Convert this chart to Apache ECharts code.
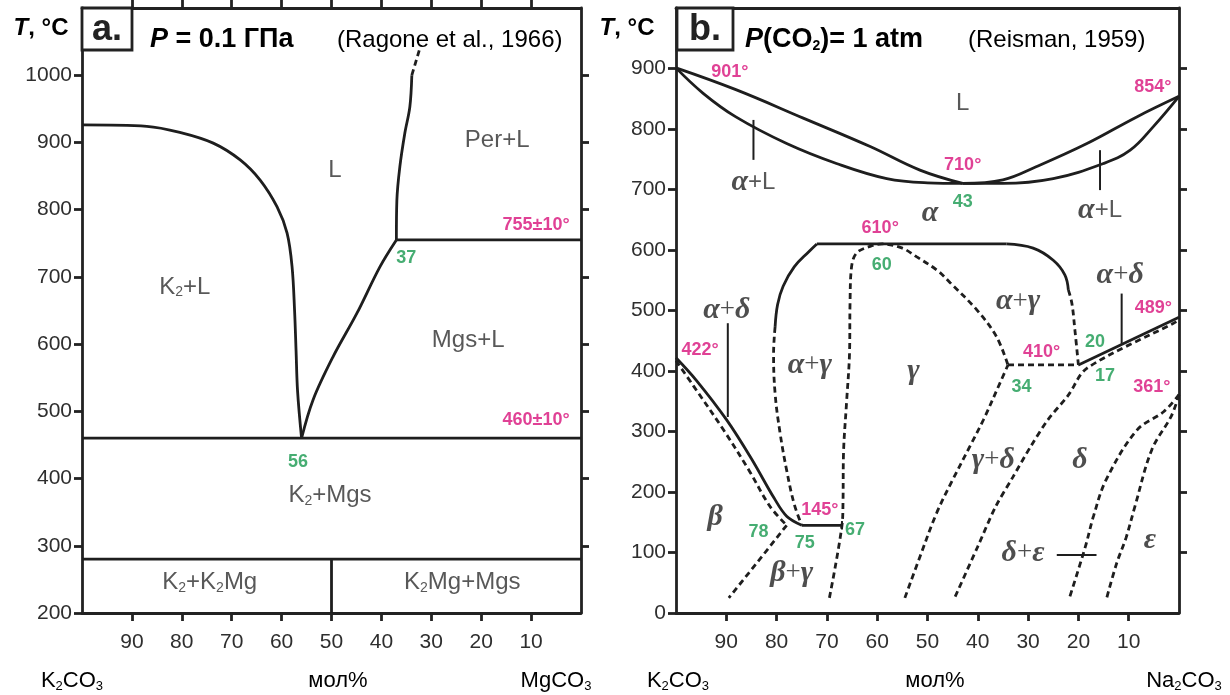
<!DOCTYPE html>
<html>
<head>
<meta charset="utf-8">
<script src="https://cdn.jsdelivr.net/npm/echarts@6/dist/echarts.min.js"></script>
<style>
  html, body { margin: 0; padding: 0; background: #fff; }
  #chart { width: 1230px; height: 695px; }
</style>
</head>
<body>
<div id="chart"></div>
<script>
// ---------- axes ----------
const xTicks = [10, 20, 30, 40, 50, 60, 70, 80, 90];
const yTicksA = [200, 300, 400, 500, 600, 700, 800, 900, 1000];
const yTicksB = [0, 100, 200, 300, 400, 500, 600, 700, 800, 900];

// ---------- panel a: K2CO3 - MgCO3, P = 0.1 GPa ----------
const a_k2Liquidus = [[100, 926], [87, 924], [80.4, 915], [73.7, 899], [68.3, 874], [64.3, 844], [60.9, 804], [58.9, 765], [57.9, 715], [57.4, 650], [57.1, 590], [56.8, 530], [56, 460]];
const a_mgsLiquidus = [[56, 460], [53.7, 517], [49.7, 581], [44.9, 646], [40.3, 715], [37, 755]];
const a_perLiquidus = [[37, 755], [36.9, 814], [36.3, 864], [35.3, 914], [34.3, 953], [33.9, 1000]];
const a_perLiquidusExtrap = [[33.9, 1000], [32.1, 1045]];
const a_peritectic = [[37, 755], [0, 755]];
const a_eutectic = [[100, 460], [0, 460]];
const a_subsolidus = [[100, 280], [0, 280]];
const a_k2mg = [[50, 200], [50, 280]];

// ---------- panel b: K2CO3 - Na2CO3, P(CO2) = 1 atm ----------
const b_liquidusLeft = [[100, 901], [88.1, 865], [74.7, 818], [61.4, 771], [51.5, 732], [43, 710]];
const b_solidusLeft = [[100, 901], [94.6, 859], [88.1, 820], [78, 776], [68.1, 743], [58.1, 718], [50, 711], [43, 710]];
const b_liquidusRight = [[43, 710], [35, 716], [28.3, 738], [18.3, 776], [8.4, 820], [0, 854]];
const b_solidusRight = [[43, 710], [35, 710], [25, 718], [15, 743], [9.7, 765], [5.1, 804], [0, 854]];
const b_tieLeft = [[84.6, 815], [84.6, 749]];
const b_tieRight = [[15.7, 765], [15.7, 699]];
const b_alphaLeft = [[80.3, 473], [79.8, 510], [78.7, 540], [76.5, 572], [73.5, 598], [72, 610]];
const b_alpha610 = [[72, 610], [34.3, 610]];
const b_alphaRight = [[34.3, 610], [29, 603], [25, 583], [22.7, 559], [22, 534]];
const b_alphaRightDash = [[22, 534], [21.3, 512], [20.7, 468], [20, 410]];
const b_alphaGammaLeft = [[80.3, 473], [80.6, 429], [80.3, 363], [79.3, 297], [78, 236], [76.5, 180], [75, 145]];
const b_gammaDome = [[69.5, 25], [67, 145], [66.8, 182], [66.7, 264], [66.1, 347], [65.5, 430], [65.4, 512], [65.1, 572], [64.1, 595], [61.4, 606], [59, 610], [55, 603], [52.2, 589], [48, 566], [45.5, 546], [40.2, 501], [36.3, 457], [34, 410]];
const b_eutectoid410 = [[34, 410], [20, 410]];
const b_alphaDelta = [[20, 410], [0, 489]];
const b_deltaSolvus = [[44.5, 27], [40, 110], [36.5, 175], [33, 225], [29.5, 275], [26, 320], [22, 360], [18.4, 404], [1.1, 479], [0, 484]];
const b_gammaDelta = [[54.5, 25], [51.5, 93], [48.2, 165], [45, 220], [41.6, 275], [38.9, 319], [35.6, 380], [34, 410]];
const b_betaSolid = [[100, 422], [96, 385], [90, 320], [85, 255], [80.5, 190], [78, 160], [75, 145]];
const b_betaDash = [[100, 417], [96.5, 375], [90.5, 302], [85.5, 236], [81.3, 176], [78, 145]];
const b_betaGamma = [[78, 145], [84, 82], [89.5, 25]];
const b_eutectoid145 = [[75, 145], [67, 145]];
const b_tick67 = [[67, 138], [67, 152]];
const b_tieAlphaDeltaL = [[89.7, 479], [89.7, 324]];
const b_tieAlphaDeltaR = [[11.4, 528], [11.4, 445]];
const b_tieDeltaEps = [[24.3, 96], [16.4, 96]];
const b_deltaEpsA = [[0, 361], [3, 333], [8.4, 302], [14.5, 220], [17, 160], [18.6, 110], [21.7, 27]];
const b_deltaEpsB = [[0, 361], [1.5, 326], [5.4, 270], [8.8, 175], [10.5, 125], [12.4, 82], [14.4, 24]];

// ---------- field and point labels ----------
const labelsA = [
  ['{s|L}', 49.3, 859],
  ['{s|Per+L}', 16.8, 903],
  ['{m|755±10°}', 9, 777],
  ['{n|37}', 35, 728],
  ['{s|K}{b|2}{s|+L}', 79.4, 685],
  ['{s|Mgs+L}', 22.6, 606],
  ['{m|460±10°}', 9, 487],
  ['{n|56}', 56.7, 425],
  ['{s|K}{b|2}{s|+Mgs}', 50.3, 375],
  ['{s|K}{b|2}{s|+K}{b|2}{s|Mg}', 74.4, 245],
  ['{s|K}{b|2}{s|Mg+Mgs}', 23.8, 245]
];
const labelsB = [
  ['{m|901°}', 89.3, 894],
  ['{m|854°}', 5.2, 869],
  ['{s|L}', 43, 843],
  ['{m|710°}', 43, 740],
  ['{n|43}', 43, 679],
  ['{g|α}', 49.5, 661],
  ['{g|α}{s|+L}', 84.6, 712],
  ['{g|α}{s|+L}', 15.7, 666],
  ['{m|610°}', 59.4, 636],
  ['{n|60}', 59.1, 575],
  ['{g|α}{p|+}{g|δ}', 89.9, 501],
  ['{m|422°}', 95.2, 435],
  ['{g|α}{p|+}{g|γ}', 73.4, 410],
  ['{g|γ}', 52.8, 399],
  ['{g|α}{p|+}{g|γ}', 32, 515],
  ['{g|α}{p|+}{g|δ}', 11.7, 559],
  ['{m|489°}', 5.1, 504],
  ['{n|20}', 16.7, 448],
  ['{m|410°}', 27.3, 432],
  ['{n|34}', 31.3, 374],
  ['{n|17}', 14.7, 391],
  ['{m|361°}', 5.4, 374],
  ['{g|γ}{p|+}{g|δ}', 36.9, 253],
  ['{g|δ}', 19.7, 253],
  ['{g|δ}{p|+}{g|ε}', 31, 99],
  ['{g|ε}', 5.8, 121],
  ['{g|β}', 92.2, 159],
  ['{n|78}', 83.6, 134],
  ['{n|75}', 74.4, 115],
  ['{m|145°}', 71.4, 170],
  ['{n|67}', 64.4, 137],
  ['{g|β}{p|+}{g|γ}', 77, 66]
];

// ---------- styles ----------
const SANS = 'Liberation Sans, Arial, Helvetica, sans-serif';
const SERIF = 'Liberation Serif, Times New Roman, serif';
const INK = '#1e1e1e';
const TXT = '#2e2e2e';
const MAG = '#d8127a';
const GRN = '#18984f';
const CITE = '#4b4b95';

const rich = {
  s: { fontFamily: SANS, fontSize: 24, color: TXT },
  b: { fontFamily: SANS, fontSize: 14, color: TXT, padding: [11, 0, 0, 0] },
  g: { fontFamily: SERIF, fontStyle: 'italic', fontWeight: 'bold', fontSize: 30, color: '#222' },
  p: { fontFamily: SERIF, fontSize: 27, color: '#222' },
  m: { fontFamily: SANS, fontWeight: 'bold', fontSize: 18, color: MAG },
  n: { fontFamily: SANS, fontWeight: 'bold', fontSize: 18, color: GRN }
};

function curve(data, panel, opt) {
  opt = opt || {};
  return {
    type: 'line',
    xAxisIndex: panel * 2,
    yAxisIndex: panel * 2,
    data: data,
    symbol: 'none',
    smooth: opt.smooth || 0,
    silent: true,
    animation: false,
    z: 3,
    lineStyle: {
      color: INK,
      width: opt.width || 2.8,
      type: opt.dash ? [6, 4] : 'solid',
      cap: 'butt'
    }
  };
}

function labelSeries(list, panel) {
  return {
    type: 'scatter',
    xAxisIndex: panel * 2,
    yAxisIndex: panel * 2,
    symbolSize: 0,
    silent: true,
    animation: false,
    z: 5,
    data: list.map(function (d) {
      return {
        value: [d[1], d[2]],
        label: {
          show: true,
          position: 'inside',
          formatter: d[0],
          rich: rich
        }
      };
    })
  };
}

function plain(v) { return String(v); }

function xAxis(grid, pos, opts) {
  return Object.assign({
    type: 'value', gridIndex: grid, min: 0, max: 100, interval: 10, inverse: true, position: pos,
    axisLine: { onZero: false, lineStyle: { color: '#222', width: 2.8 } },
    axisTick: { show: true, customValues: xTicks, length: 8, lineStyle: { color: '#222', width: 2.8 } },
    axisLabel: { show: pos === 'bottom', customValues: xTicks, formatter: plain, fontFamily: SANS, fontSize: 21, color: TXT, margin: 19 },
    splitLine: { show: false }
  }, opts || {});
}

function yAxis(grid, pos, min, max, ticks, opts) {
  return Object.assign({
    type: 'value', gridIndex: grid, min: min, max: max, interval: 100, position: pos,
    axisLine: { onZero: false, lineStyle: { color: '#222', width: 2.8 } },
    axisTick: { show: true, customValues: ticks, length: 8, lineStyle: { color: '#222', width: 2.8 } },
    axisLabel: { show: pos === 'left', customValues: ticks, formatter: plain, fontFamily: SANS, fontSize: 21, color: TXT, margin: 10 },
    splitLine: { show: false }
  }, opts || {});
}

const chart = echarts.init(document.getElementById('chart'), null, { renderer: 'canvas' });

const series = [
  // panel a
  curve(a_k2Liquidus, 0, { smooth: 0.35 }),
  curve(a_mgsLiquidus, 0, { smooth: 0.35 }),
  curve(a_perLiquidus, 0, { smooth: 0.35 }),
  curve(a_perLiquidusExtrap, 0, { dash: true }),
  curve(a_peritectic, 0),
  curve(a_eutectic, 0),
  curve(a_subsolidus, 0),
  curve(a_k2mg, 0),
  labelSeries(labelsA, 0),
  // panel b
  curve(b_liquidusLeft, 1, { smooth: 0.4 }),
  curve(b_solidusLeft, 1, { smooth: 0.4 }),
  curve(b_liquidusRight, 1, { smooth: 0.4 }),
  curve(b_solidusRight, 1, { smooth: 0.4 }),
  curve(b_tieLeft, 1, { width: 2 }),
  curve(b_tieRight, 1, { width: 2 }),
  curve(b_alphaLeft, 1, { smooth: 0.4 }),
  curve(b_alpha610, 1),
  curve(b_alphaRight, 1, { smooth: 0.4 }),
  curve(b_alphaRightDash, 1, { smooth: 0.4, dash: true }),
  curve(b_alphaGammaLeft, 1, { smooth: 0.4, dash: true }),
  curve(b_gammaDome, 1, { smooth: 0.35, dash: true }),
  curve(b_eutectoid410, 1, { dash: true }),
  curve(b_alphaDelta, 1),
  curve(b_deltaSolvus, 1, { smooth: 0.3, dash: true }),
  curve(b_gammaDelta, 1, { smooth: 0.35, dash: true }),
  curve(b_betaSolid, 1, { smooth: 0.35 }),
  curve(b_betaDash, 1, { smooth: 0.35, dash: true }),
  curve(b_betaGamma, 1, { dash: true }),
  curve(b_eutectoid145, 1),
  curve(b_tick67, 1, { width: 2 }),
  curve(b_tieAlphaDeltaL, 1, { width: 2 }),
  curve(b_tieAlphaDeltaR, 1, { width: 2 }),
  curve(b_tieDeltaEps, 1, { width: 2 }),
  curve(b_deltaEpsA, 1, { smooth: 0.35, dash: true }),
  curve(b_deltaEpsB, 1, { smooth: 0.35, dash: true }),
  labelSeries(labelsB, 1)
];

const headStyle = {
  t: { fontFamily: SANS, fontSize: 24, fontWeight: 'bold', fontStyle: 'italic', color: '#222' },
  c: { fontFamily: SANS, fontSize: 24, fontWeight: 'bold', color: '#222' },
  pi: { fontFamily: SANS, fontSize: 27, fontWeight: 'bold', fontStyle: 'italic', color: MAG },
  pm: { fontFamily: SANS, fontSize: 27, fontWeight: 'bold', color: MAG },
  ps: { fontFamily: SANS, fontSize: 14, fontWeight: 'bold', color: MAG, padding: [13, 0, 0, 0] },
  ci: { fontFamily: SANS, fontSize: 24, color: CITE },
  ax: { fontFamily: SANS, fontSize: 22, color: TXT },
  axs: { fontFamily: SANS, fontSize: 13, color: TXT, padding: [11, 0, 0, 0] }
};

function txt(x, y, text, align) {
  return {
    type: 'text', x: x, y: y, silent: true, z: 10,
    style: { text: text, rich: headStyle, align: align || 'center', verticalAlign: 'middle' }
  };
}
function box(x, y, w, h, label) {
  return [
    { type: 'rect', shape: { x: x, y: y, width: w, height: h }, silent: true, z: 9,
      style: { fill: '#fff', stroke: '#222', lineWidth: 2.8 } },
    { type: 'text', x: x + w / 2, y: y + h / 2 + 1, silent: true, z: 10,
      style: { text: label, fontFamily: SANS, fontSize: 36, fontWeight: 'bold', fill: '#222', align: 'center', verticalAlign: 'middle' } }
  ];
}

const graphic = [].concat(
  [txt(41, 28, '{t|T}{c|, °C}')],
  box(82, 8, 50, 42, 'a.'),
  [txt(150, 40, '{pi|P}{pm| = 0.1 ГПа}', 'left'),
   txt(337, 40, '{ci|(Ragone et al., 1966)}', 'left'),
   txt(627, 28, '{t|T}{c|, °C}')],
  box(677, 8, 56, 42, 'b.'),
  [txt(745, 40, '{pi|P}{pm|(CO}{ps|2}{pm|)= 1 atm}', 'left'),
   txt(968, 40, '{ci|(Reisman, 1959)}', 'left'),
   txt(72, 681, '{ax|K}{axs|2}{ax|CO}{axs|3}'),
   txt(338, 681, '{ax|мол%}'),
   txt(556, 681, '{ax|MgCO}{axs|3}'),
   txt(678, 681, '{ax|K}{axs|2}{ax|CO}{axs|3}'),
   txt(935, 681, '{ax|мол%}'),
   txt(1184, 681, '{ax|Na}{axs|2}{ax|CO}{axs|3}')]
);

chart.setOption({
  animation: false,
  backgroundColor: '#fff',
  grid: [
    { left: 82, right: 649, top: 8, bottom: 82 },
    { left: 676, right: 51, top: 8, bottom: 82 }
  ],
  xAxis: [
    xAxis(0, 'bottom'),
    xAxis(0, 'top'),
    xAxis(1, 'bottom'),
    xAxis(1, 'top', { axisTick: { show: false } })
  ],
  yAxis: [
    yAxis(0, 'left', 200, 1100, yTicksA),
    yAxis(0, 'right', 200, 1100, [300, 400, 500, 600, 700, 800, 900, 1000]),
    yAxis(1, 'left', 0, 1000, yTicksB),
    yAxis(1, 'right', 0, 1000, [100, 200, 300, 400, 500, 600, 700, 800, 900])
  ],
  series: series,
  graphic: graphic
});
</script>
</body>
</html>
